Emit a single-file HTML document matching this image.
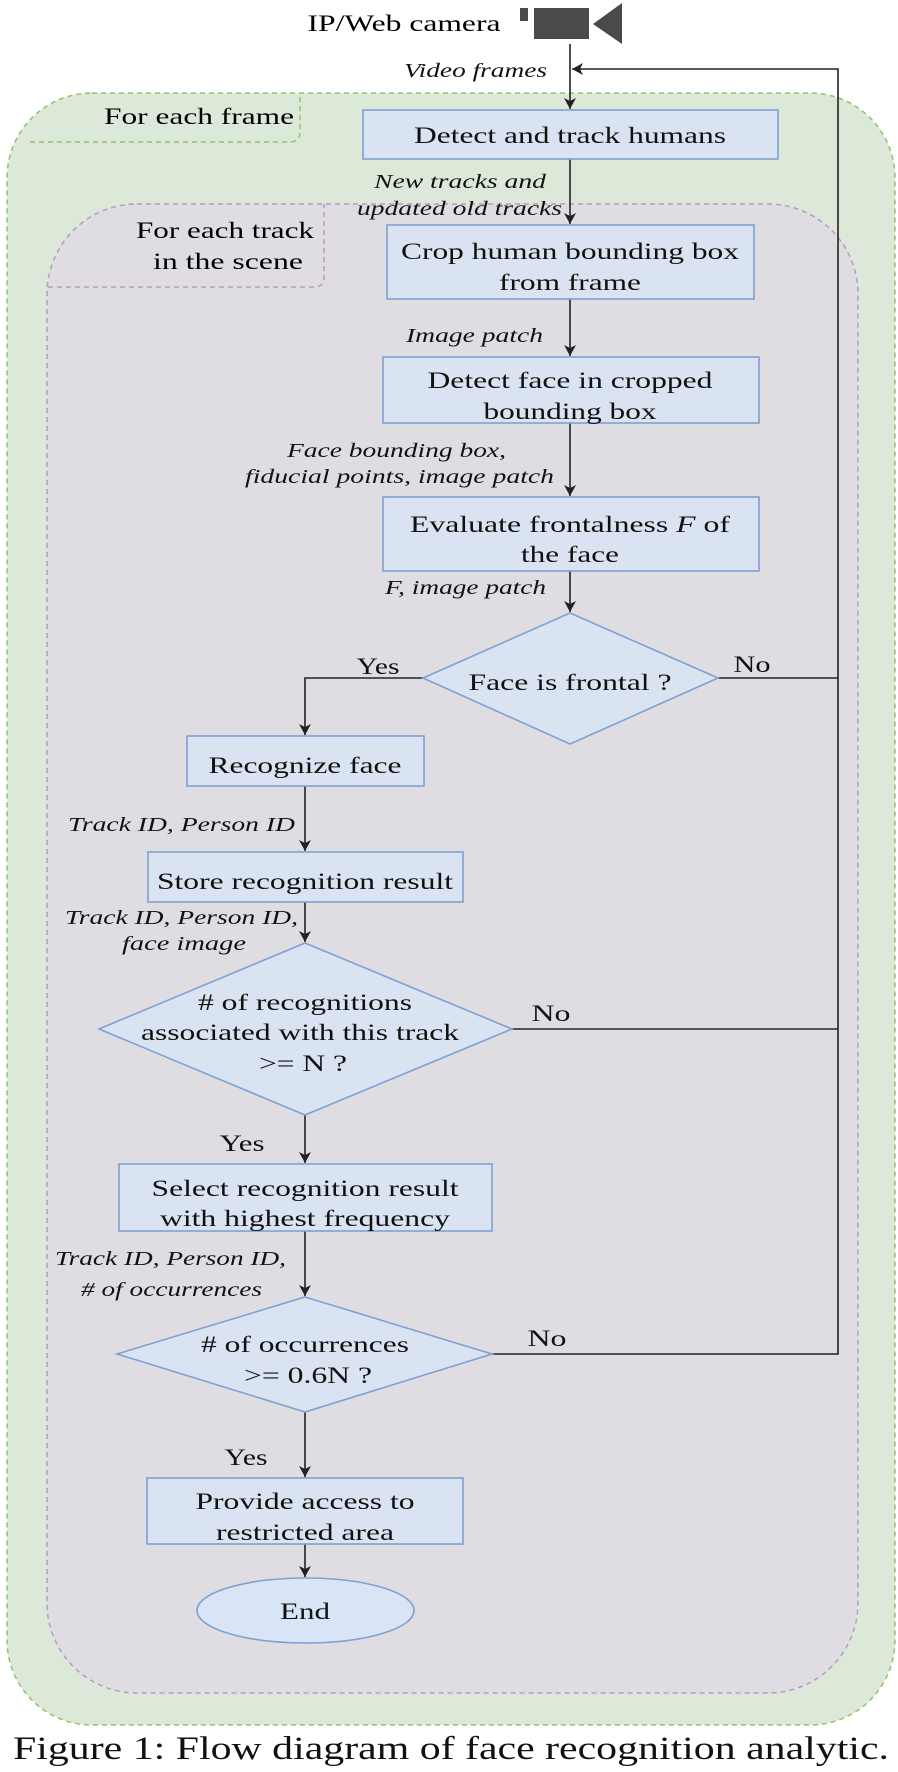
<!DOCTYPE html>
<html><head><meta charset="utf-8"><style>html,body{margin:0;padding:0;background:#fff}svg{display:block}svg text{font-family:"Liberation Serif","Times New Roman",serif}</style></head>
<body>
<svg width="898" height="1772" viewBox="0 0 898 1772" xmlns="http://www.w3.org/2000/svg">
<defs>
<marker id="a" markerWidth="14" markerHeight="14" refX="12" refY="7" orient="auto" markerUnits="userSpaceOnUse">
<path d="M1,1 L12,7 L1,13 L4,7 Z" fill="#222"/>
</marker>
</defs>
<rect x="7" y="93" width="888" height="1632" rx="85" fill="#dde9d8" stroke="#8fc36e" stroke-width="1.5" stroke-dasharray="5,4"/>
<path d="M30,142 H290 Q300,142 300,132 V93" fill="none" stroke="#8fc36e" stroke-width="1.5" stroke-dasharray="5,4"/>
<text x="199" y="124" font-size="23" text-anchor="middle" textLength="190" lengthAdjust="spacingAndGlyphs">For each frame</text>
<rect x="47" y="204" width="811" height="1489" rx="90" fill="#dfdde1" stroke="#b49cc4" stroke-width="1.5" stroke-dasharray="5,4"/>
<path d="M48,287 H314 Q324,287 324,277 V204" fill="none" stroke="#b49cc4" stroke-width="1.5" stroke-dasharray="5,4"/>
<text x="225" y="238" font-size="23" text-anchor="middle" textLength="178" lengthAdjust="spacingAndGlyphs">For each track</text>
<text x="228" y="269" font-size="23" text-anchor="middle" textLength="150" lengthAdjust="spacingAndGlyphs">in the scene</text>

<text x="404" y="31" font-size="23" text-anchor="middle" textLength="193" lengthAdjust="spacingAndGlyphs">IP/Web camera</text>
<rect x="520" y="8" width="8" height="13" fill="#4a4a4a"/>
<rect x="534" y="8" width="55" height="31" fill="#4a4a4a"/>
<path d="M622,3 L622,44 L593,24 Z" fill="#4a4a4a"/>

<g stroke="#222" stroke-width="1.6" fill="none">
<line x1="570" y1="44" x2="570" y2="109" marker-end="url(#a)"/>
<line x1="570" y1="159" x2="570" y2="224" marker-end="url(#a)"/>
<line x1="570" y1="299" x2="570" y2="356" marker-end="url(#a)"/>
<line x1="570" y1="423" x2="570" y2="496" marker-end="url(#a)"/>
<line x1="570" y1="571" x2="570" y2="612" marker-end="url(#a)"/>
<polyline points="423,678 305,678 305,735" marker-end="url(#a)"/>
<line x1="305" y1="786" x2="305" y2="851" marker-end="url(#a)"/>
<line x1="305" y1="902" x2="305" y2="942" marker-end="url(#a)"/>
<line x1="305" y1="1115" x2="305" y2="1163" marker-end="url(#a)"/>
<line x1="305" y1="1231" x2="305" y2="1296" marker-end="url(#a)"/>
<line x1="305" y1="1412" x2="305" y2="1477" marker-end="url(#a)"/>
<line x1="305" y1="1544" x2="305" y2="1577" marker-end="url(#a)"/>
<polyline points="492,1354 838,1354 838,69 572,69" marker-end="url(#a)"/>
<line x1="718" y1="678" x2="838" y2="678"/>
<line x1="512" y1="1029" x2="838" y2="1029"/>
</g>

<g fill="#dae3f1" stroke="#7fa0d2" stroke-width="1.6">
<rect x="363" y="110" width="415" height="49"/>
<rect x="387" y="225" width="367" height="74"/>
<rect x="383" y="357" width="376" height="66"/>
<rect x="383" y="497" width="376" height="74"/>
<polygon points="570,613 718,678 570,744 423,678"/>
<rect x="187" y="736" width="237" height="50"/>
<rect x="148" y="852" width="315" height="50"/>
<polygon points="305,943 512,1029 305,1115 99,1029"/>
<rect x="119" y="1164" width="373" height="67"/>
<polygon points="305,1297 492,1354 305,1412 117,1354"/>
<rect x="147" y="1478" width="316" height="66"/>
<ellipse cx="305.5" cy="1610.5" rx="108.5" ry="32.5" fill="#d9e5f7"/>
</g>

<g font-size="23" text-anchor="middle" fill="#111">
<text x="570" y="143" textLength="312" lengthAdjust="spacingAndGlyphs">Detect and track humans</text>
<text x="570" y="259" textLength="338" lengthAdjust="spacingAndGlyphs">Crop human bounding box</text>
<text x="570" y="290" textLength="142" lengthAdjust="spacingAndGlyphs">from frame</text>
<text x="570" y="388" textLength="285" lengthAdjust="spacingAndGlyphs">Detect face in cropped</text>
<text x="570" y="419" textLength="173" lengthAdjust="spacingAndGlyphs">bounding box</text>
<text x="570" y="532" textLength="320" lengthAdjust="spacingAndGlyphs">Evaluate frontalness <tspan font-style="italic">F</tspan> of</text>
<text x="570" y="562" textLength="98" lengthAdjust="spacingAndGlyphs">the face</text>
<text x="570" y="690" textLength="203" lengthAdjust="spacingAndGlyphs">Face is frontal ?</text>
<text x="305" y="773" textLength="193" lengthAdjust="spacingAndGlyphs">Recognize face</text>
<text x="305" y="889" textLength="296" lengthAdjust="spacingAndGlyphs">Store recognition result</text>
<text x="305" y="1010" textLength="214" lengthAdjust="spacingAndGlyphs"># of recognitions</text>
<text x="300" y="1040" textLength="318" lengthAdjust="spacingAndGlyphs">associated with this track</text>
<text x="303" y="1071" textLength="88" lengthAdjust="spacingAndGlyphs">&gt;= N ?</text>
<text x="305" y="1196" textLength="307" lengthAdjust="spacingAndGlyphs">Select recognition result</text>
<text x="305" y="1226" textLength="290" lengthAdjust="spacingAndGlyphs">with highest frequency</text>
<text x="305" y="1352" textLength="208" lengthAdjust="spacingAndGlyphs"># of occurrences</text>
<text x="308" y="1383" textLength="128" lengthAdjust="spacingAndGlyphs">&gt;= 0.6N ?</text>
<text x="305" y="1509" textLength="219" lengthAdjust="spacingAndGlyphs">Provide access to</text>
<text x="305" y="1540" textLength="178" lengthAdjust="spacingAndGlyphs">restricted area</text>
<text x="305" y="1619" textLength="50" lengthAdjust="spacingAndGlyphs">End</text>
<text x="378" y="674" textLength="43" lengthAdjust="spacingAndGlyphs">Yes</text>
<text x="752" y="672" textLength="37" lengthAdjust="spacingAndGlyphs">No</text>
<text x="551" y="1021" textLength="39" lengthAdjust="spacingAndGlyphs">No</text>
<text x="242" y="1151" textLength="45" lengthAdjust="spacingAndGlyphs">Yes</text>
<text x="547" y="1346" textLength="39" lengthAdjust="spacingAndGlyphs">No</text>
<text x="246" y="1465" textLength="43" lengthAdjust="spacingAndGlyphs">Yes</text>
</g>

<g font-size="20" font-style="italic" text-anchor="end" fill="#111">
<text x="547" y="77" textLength="143" lengthAdjust="spacingAndGlyphs">Video frames</text>
<text x="546" y="188" textLength="172" lengthAdjust="spacingAndGlyphs">New tracks and</text>
<text x="562" y="215" textLength="205" lengthAdjust="spacingAndGlyphs">updated old tracks</text>
<text x="543" y="342" textLength="137" lengthAdjust="spacingAndGlyphs">Image patch</text>
<text x="506" y="457" textLength="219" lengthAdjust="spacingAndGlyphs">Face bounding box,</text>
<text x="554" y="483" textLength="309" lengthAdjust="spacingAndGlyphs">fiducial points, image patch</text>
<text x="546" y="594" textLength="161" lengthAdjust="spacingAndGlyphs">F, image patch</text>
<text x="295" y="831" textLength="227" lengthAdjust="spacingAndGlyphs">Track ID, Person ID</text>
<text x="298" y="924" textLength="233" lengthAdjust="spacingAndGlyphs">Track ID, Person ID,</text>
<text x="246" y="950" textLength="124" lengthAdjust="spacingAndGlyphs">face image</text>
<text x="286" y="1265" textLength="231" lengthAdjust="spacingAndGlyphs">Track ID, Person ID,</text>
<text x="262" y="1296" textLength="181" lengthAdjust="spacingAndGlyphs"># of occurrences</text>
</g>

<text x="13" y="1759" font-size="33" fill="#111" textLength="876" lengthAdjust="spacingAndGlyphs">Figure 1: Flow diagram of face recognition analytic.</text>
</svg>
</body></html>
